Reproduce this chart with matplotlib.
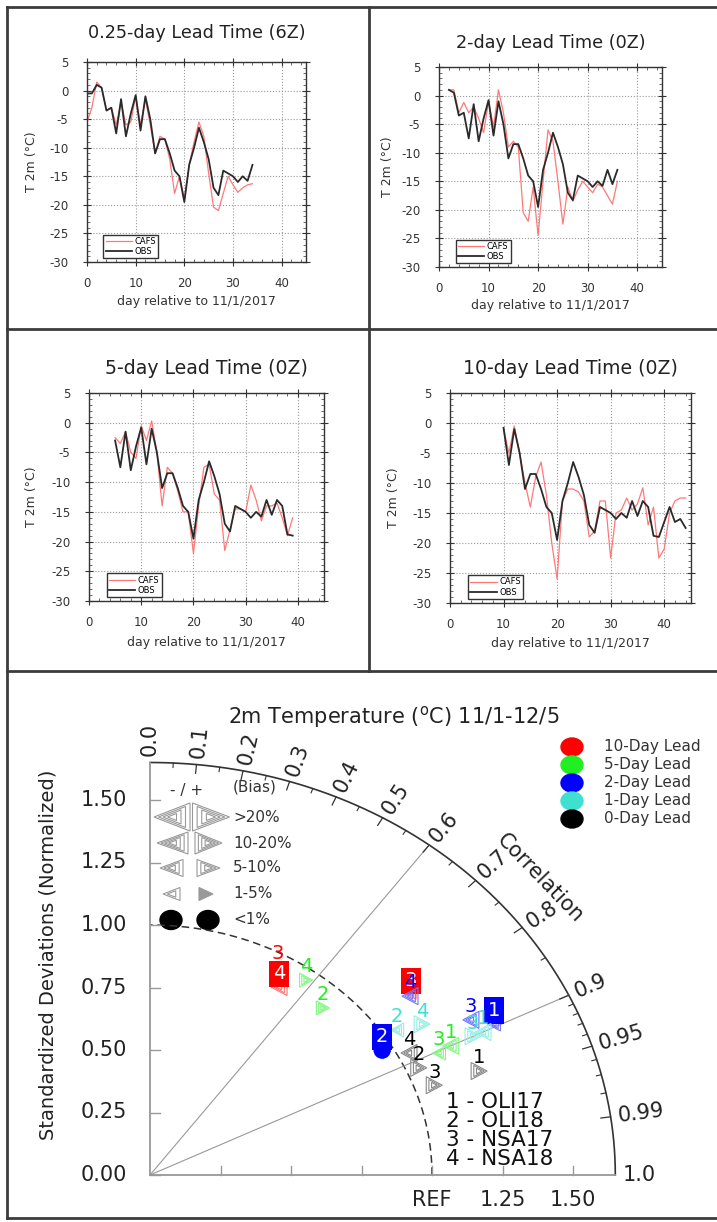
import numpy as np
import matplotlib
matplotlib.use("Agg")
import matplotlib.pyplot as plt
import matplotlib.colors as mcolors
from matplotlib.lines import Line2D
from matplotlib.patches import Ellipse, Polygon
from matplotlib.ticker import MultipleLocator

plt.rcParams["font.family"] = "DejaVu Sans"
plt.rcParams["axes.unicode_minus"] = False

# ---- time series: 2 m temperature (degC), day relative to 11/1/2017 ----
obs_day = np.arange(0, 45)
obs_t2m = np.array([
    -0.5, -0.5, 1.0, 0.5, -3.5, -3.0, -7.5, -1.5, -8.0, -4.0,
    -0.8, -7.0, -1.0, -5.0, -11.0, -8.5, -8.5, -11.0, -14.0, -15.0,
    -19.5, -13.0, -10.0, -6.5, -9.0, -12.0, -17.0, -18.3, -14.0, -14.5,
    -15.0, -16.0, -15.0, -15.8, -13.0, -15.5, -13.0, -14.0, -18.8, -19.0,
    -16.5, -14.0, -16.5, -16.0, -17.5])

lead_titles = ["0.25-day Lead Time (6Z)", "2-day Lead Time (0Z)",
               "5-day Lead Time (0Z)", "10-day Lead Time (0Z)"]
lead_first_day = [0, 2, 5, 10]

cafs_025d = [-5.5, -3.0, 1.5, 0.5, -3.5, -3.0, -6.0, -2.0, -6.0, -5.5,
             -1.0, -6.0, -1.5, -6.0, -11.0, -8.0, -8.5, -12.0, -18.0, -15.0,
             -19.0, -13.0, -9.0, -5.5, -8.0, -14.5, -20.4, -21.0, -18.0, -15.0,
             -16.5, -17.8, -17.0, -16.5, -16.3]
cafs_2d = [1.0, 1.0, -3.0, -1.2, -3.0, -2.0, -4.0, -6.5, -1.0, -5.5,
           1.0, -3.0, -9.0, -8.0, -9.0, -20.5, -22.0, -16.0, -24.5, -15.0,
           -6.0, -8.0, -15.0, -22.5, -16.0, -18.5, -16.5, -15.0, -16.0, -17.0,
           -15.5, -16.0, -17.5, -19.0, -15.0]
cafs_5d = [-2.5, -3.5, -1.5, -5.0, -6.0, -0.5, -3.0, 0.3, -5.0, -14.0,
           -7.5, -8.5, -11.5, -15.0, -15.0, -22.0, -14.0, -7.5, -7.0, -12.0,
           -13.0, -21.5, -18.0, -14.5, -14.5, -15.0, -10.5, -13.0, -16.5, -14.0,
           -14.0, -13.5, -16.0, -19.0, -16.0]
cafs_10d = [-1.0, -5.0, -0.5, -5.0, -10.0, -14.0, -9.0, -6.5, -12.0, -20.0,
            -26.0, -13.0, -11.0, -11.0, -11.5, -13.0, -19.0, -18.0, -13.0, -13.0,
            -22.5, -15.0, -14.5, -12.5, -14.5, -13.5, -10.8, -17.0, -14.0, -22.5,
            -21.0, -15.0, -13.0, -12.5, -12.5]
cafs_series = [cafs_025d, cafs_2d, cafs_5d, cafs_10d]

# ---- Taylor diagram: normalized std, correlation, bias class per site ----
site_names = ["OLI17", "OLI18", "NSA17", "NSA18"]
lead_names = ["10-Day Lead", "5-Day Lead", "2-Day Lead", "1-Day Lead", "0-Day Lead"]
lead_colors = ["#ff0000", "#22ee22", "#0000ff", "#40e0d0", "#000000"]
bias_labels = [">20%", "10-20%", "5-10%", "1-5%", "<1%"]

td_lead = [10, 10, 5, 5, 10, 2, 1, 1, 2, 2, 1, 1, 5, 5, 0, 0, 0, 0, 2]
td_site = [3, 4, 4, 2, 3, 4, 2, 4, 3, 1, 3, 1, 3, 1, 4, 2, 3, 1, 2]
td_std = [0.950, 0.880, 0.956, 0.907, 1.175, 1.167, 1.051, 1.138, 1.296, 1.361,
          1.273, 1.312, 1.135, 1.185, 1.040, 1.045, 1.070, 1.239, 0.963]
td_corr = [0.478, 0.520, 0.579, 0.676, 0.788, 0.790, 0.834, 0.848, 0.878, 0.896,
           0.900, 0.900, 0.903, 0.900, 0.883, 0.912, 0.942, 0.942, 0.855]
td_bias_class = [1, 3, 2, 2, 1, 3, 2, 3, 3, 2, 3, 3, 2, 3, 3, 3, 3, 3, 0]   # 0 = <1%
td_bias_sign = [-1, -1, 1, 1, -1, -1, -1, 1, -1, -1, 1, -1, -1, -1, -1, 1, 1, 1, 1]
td_boxed = [0, 1, 0, 0, 1, 0, 0, 0, 0, 1, 0, 0, 0, 0, 0, 0, 0, 0, 1]

corr_major = [0.0, 0.1, 0.2, 0.3, 0.4, 0.5, 0.6, 0.7, 0.8, 0.9, 0.95, 0.99, 1.0]
corr_major_labels = ["0.0", "0.1", "0.2", "0.3", "0.4", "0.5", "0.6", "0.7",
                     "0.8", "0.9", "0.95", "0.99", "1.0"]
corr_minor = [0.05, 0.15, 0.25, 0.35, 0.45, 0.55, 0.65, 0.75, 0.85,
              0.91, 0.92, 0.93, 0.94, 0.96, 0.97, 0.98]
std_ticks = [0.0, 0.25, 0.5, 0.75, 1.0, 1.25, 1.5]

W, H, DPI = 717, 1222, 100
fig = plt.figure(figsize=(W / DPI, H / DPI), dpi=DPI)


def add_px_axes(left, top, width, height):
    return fig.add_axes([left / W, 1 - (top + height) / H, width / W, height / H])


# panel frames
EDGE = "#3c3c3c"
for x0, y0, x1, y1 in [(7, 7, 717, 7), (7, 7, 7, 1218), (369, 7, 369, 671),
                       (7, 329, 717, 329), (7, 671, 717, 671), (7, 1218, 717, 1218)]:
    fig.add_artist(Line2D([x0 / W, x1 / W], [1 - y0 / H, 1 - y1 / H],
                          transform=fig.transFigure, color=EDGE, lw=2))

# ---- four time-series panels ------------------------------------------------
# left, top, width, height, title offset, title size, xlabel offset, ylabel offset
ts_layout = [
    (87, 62, 219, 200, 29, 12.7, 40, 55),
    (439, 67, 223, 200, 24, 12.7, 38, 52),
    (89, 393, 235, 208, 25, 13.6, 41, 57),
    (450, 393, 241, 210, 25, 13.6, 40, 57),
]
for i, (l, t, w, h, toff, tsize, xoff, yoff) in enumerate(ts_layout):
    ax = add_px_axes(l, t, w, h)
    d0 = lead_first_day[i]
    cafs = np.array(cafs_series[i])
    days = np.arange(d0, d0 + len(cafs))
    m = (obs_day >= d0) & (obs_day <= days[-1])
    ax.plot(days, cafs, color="#ff7878", lw=0.9, label="CAFS")
    ax.plot(obs_day[m], obs_t2m[m], color="#2a2a2a", lw=1.3, label="OBS")

    ax.set_xlim(0, 45)
    ax.set_ylim(-30, 5)
    ax.set_xticks([0, 10, 20, 30, 40])
    ax.set_yticks(np.arange(-30, 6, 5))
    ax.xaxis.set_minor_locator(MultipleLocator(2))
    ax.yaxis.set_minor_locator(MultipleLocator(1))
    ax.tick_params(which="major", direction="inout", length=6, width=0.8,
                   top=True, right=True, labelsize=8.5, colors="#333")
    ax.tick_params(axis="x", which="major", pad=8)
    ax.tick_params(axis="y", which="major", pad=10.5)
    ax.tick_params(which="minor", direction="in", length=2.5, width=0.6,
                   top=True, right=True, colors="#555")
    ax.grid(True, which="major", linestyle=":", color="#999", lw=0.8)
    for s in ax.spines.values():
        s.set_color("#333")
        s.set_linewidth(1.0)

    ax.text(0.5, 1 + toff / h, lead_titles[i], transform=ax.transAxes,
            ha="center", va="center", fontsize=tsize, color="#222")
    ax.set_xlabel("day relative to 11/1/2017", fontsize=9, color="#333")
    ax.xaxis.set_label_coords(0.5, -xoff / h)
    ax.xaxis.label.set_va("center")
    ax.set_ylabel("T 2m (°C)", fontsize=9, color="#333")
    ax.yaxis.set_label_coords(-yoff / w, 0.5)
    ax.yaxis.label.set_va("center")

    ax.legend(loc="lower left", bbox_to_anchor=(0.075, 0.02), fontsize=6,
              frameon=True, fancybox=False, edgecolor="#333", framealpha=1,
              borderpad=0.25, labelspacing=0.15, handlelength=3.2,
              handletextpad=0.3, borderaxespad=0)

# ---- Taylor diagram -------------------------------------------------------
TX0, TY0, SX, SY = 150, 1175, 282, 250   # origin pixel, pixels per unit
RMAX = 1.65
ax_t = add_px_axes(TX0, TY0 - RMAX * SY, RMAX * SX, RMAX * SY)
ax_t.set_xlim(0, RMAX)
ax_t.set_ylim(0, RMAX)
ax_t.axis("off")


def tpx(x, y):
    """pixel position -> Taylor data coordinates"""
    return (x - TX0) / SX, (TY0 - y) / SY


def to_px(X, Y):
    return TX0 + X * SX, TY0 - Y * SY


def lighten(c, f):
    rgb = np.array(mcolors.to_rgb(c))
    return tuple(rgb + (1 - rgb) * f)


def nested_tri(cx, cy, w, h, direction, color, levels=3, filled=False, z=3, lw=0.8):
    for k in range(levels):
        f = 1 - k / levels
        ww, hh = w * f, h * f
        if direction < 0:
            xs = [cx - ww / 2, cx + ww / 2, cx + ww / 2]
        else:
            xs = [cx + ww / 2, cx - ww / 2, cx - ww / 2]
        ys = [cy, cy - hh / 2, cy + hh / 2]
        pts = [tpx(x, y) for x, y in zip(xs, ys)]
        ax_t.add_patch(Polygon(pts, closed=True, fill=(filled and k == 0),
                               fc=color, ec=color, lw=lw, zorder=z, clip_on=False))
        if filled:
            break


th = np.linspace(0, np.pi / 2, 300)
ax_t.plot(RMAX * np.cos(th), RMAX * np.sin(th), color="#333", lw=1.2, clip_on=False)
ax_t.plot(np.cos(th), np.sin(th), color="#333", lw=1.1, ls=(0, (5, 3)), clip_on=False)
ax_t.plot([0, RMAX], [0, 0], color="#999", lw=1.3, clip_on=False)
ax_t.plot([0, 0], [0, RMAX], color="#999", lw=1.3, clip_on=False)
for c in (0.6, 0.9):
    a = np.arccos(c)
    ax_t.plot([0, RMAX * np.cos(a)], [0, RMAX * np.sin(a)], color="#999", lw=0.8)

# correlation ticks and labels
for c, lab in zip(corr_major, corr_major_labels):
    a = np.arccos(c)
    if 0 < c < 1:
        ax_t.plot([RMAX * np.cos(a), (RMAX - 0.035) * np.cos(a)],
                  [RMAX * np.sin(a), (RMAX - 0.035) * np.sin(a)],
                  color="#333", lw=0.9, clip_on=False)
    phi = np.degrees(np.arctan2(np.sin(a) * SY, np.cos(a) * SX))
    ax_t.text(1.675 * np.cos(a), 1.675 * np.sin(a), lab, rotation=phi,
              rotation_mode="anchor", ha="left", va="center", fontsize=15, color="#222")
for c in corr_minor:
    a = np.arccos(c)
    ax_t.plot([RMAX * np.cos(a), (RMAX - 0.018) * np.cos(a)],
              [RMAX * np.sin(a), (RMAX - 0.018) * np.sin(a)],
              color="#333", lw=0.8, clip_on=False)
ax_t.text(*tpx(540, 878), "Correlation", rotation=-46, rotation_mode="anchor",
          ha="center", va="center", fontsize=15, color="#222")

# std ticks and labels
for v in std_ticks:
    ax_t.plot([0, 0.035], [v, v], color="#999", lw=1.0, clip_on=False)
    if v > 0:
        ax_t.plot([v, v], [0, 0.035], color="#999", lw=1.0, clip_on=False)
    ax_t.text(-23 / SX, v, f"{v:.2f}", ha="right", va="center", fontsize=15, color="#222")
for v, lab in [(1.0, "REF"), (1.25, "1.25"), (1.5, "1.50")]:
    ax_t.text(v, -25 / SY, lab, ha="center", va="center", fontsize=15, color="#222")

fig.text(394 / W, 1 - 717 / H, "2m Temperature ($^{\\rm o}$C) 11/1-12/5",
         ha="center", va="center", fontsize=15, color="#222")
fig.text(48 / W, 1 - 955 / H, "Standardized Deviations (Normalized)", rotation=90,
         ha="center", va="center", fontsize=14, color="#222")

# data points
tri_size = {1: (10, 10, 2), 2: (13, 14, 3), 3: (16, 17, 3), 4: (20, 22, 4)}
lead_index = {10: 0, 5: 1, 2: 2, 1: 3, 0: 4}
for i in range(len(td_std)):
    a = np.arccos(td_corr[i])
    X, Y = td_std[i] * np.cos(a), td_std[i] * np.sin(a)
    px, py = to_px(X, Y)
    col = lead_colors[lead_index[td_lead[i]]]
    z = 3 + 0.01 * i
    if td_bias_class[i] == 0:
        ax_t.add_patch(Ellipse((X, Y), 16 / SX, 16 / SY, fc=col, ec=col, zorder=z))
    else:
        w, h, lev = tri_size[td_bias_class[i]]
        tcol = "#888888" if td_lead[i] == 0 else lighten(col, 0.45)
        nested_tri(px, py, w, h, td_bias_sign[i], tcol, levels=lev, z=z)
    if td_boxed[i]:
        ax_t.annotate(str(td_site[i]), (X, Y), xytext=(0, 9.5), textcoords="offset points",
                      ha="center", va="center", fontsize=14, color="white", zorder=z + 0.005,
                      bbox=dict(boxstyle="square,pad=0.2", fc=col, ec=col, lw=0))
    else:
        ax_t.annotate(str(td_site[i]), (X, Y), xytext=(0, 9.5), textcoords="offset points",
                      ha="center", va="center", fontsize=14, color=col, zorder=z + 0.005)

# lead legend (top right)
for k, (name, col) in enumerate(zip(lead_names, lead_colors)):
    y = 747 + 18 * k
    ax_t.add_patch(Ellipse(tpx(572, y), 22 / SX, 18 / SY, fc=col, ec=col, clip_on=False))
    ax_t.text(*tpx(604, y), name, ha="left", va="center", fontsize=11, color="#333")

# bias legend (top left)
ax_t.text(*tpx(255, 787), "(Bias)", ha="center", va="center", fontsize=11, color="#333")
ax_t.text(*tpx(187, 791), "- / +", ha="center", va="center", fontsize=11, color="#333")
legend_tris = [  # y, left(cx,w), right(cx,w), h, levels
    (817, (172, 36), (211, 37), 28, 4),
    (843, (172.5, 31), (208.5, 27), 22, 4),
    (868, (171.5, 23), (208.5, 23), 17, 3),
    (894, (171.5, 17), (206, 14), 13, 2),
]
for k, (y, (lx, lw_), (rx, rw), h, lev) in enumerate(legend_tris):
    nested_tri(lx, y, lw_, h, -1, "#999999", levels=lev)
    nested_tri(rx, y, rw, h, 1, "#999999", levels=lev, filled=(k == 3))
    ax_t.text(*tpx(233, y), bias_labels[k], ha="left", va="center", fontsize=11, color="#333")
for x in (171, 208):
    ax_t.add_patch(Ellipse(tpx(x, 920), 22 / SX, 19 / SY, fc="black", ec="black", clip_on=False))
ax_t.text(*tpx(233, 920), bias_labels[4], ha="left", va="center", fontsize=11, color="#333")

# site key
for k, name in enumerate(site_names):
    fig.text(446 / W, 1 - (1102 + 19 * k) / H, f"{k + 1} - {name}",
             ha="left", va="center", fontsize=15.5, color="#111")

fig.savefig("out.png", dpi=DPI)
